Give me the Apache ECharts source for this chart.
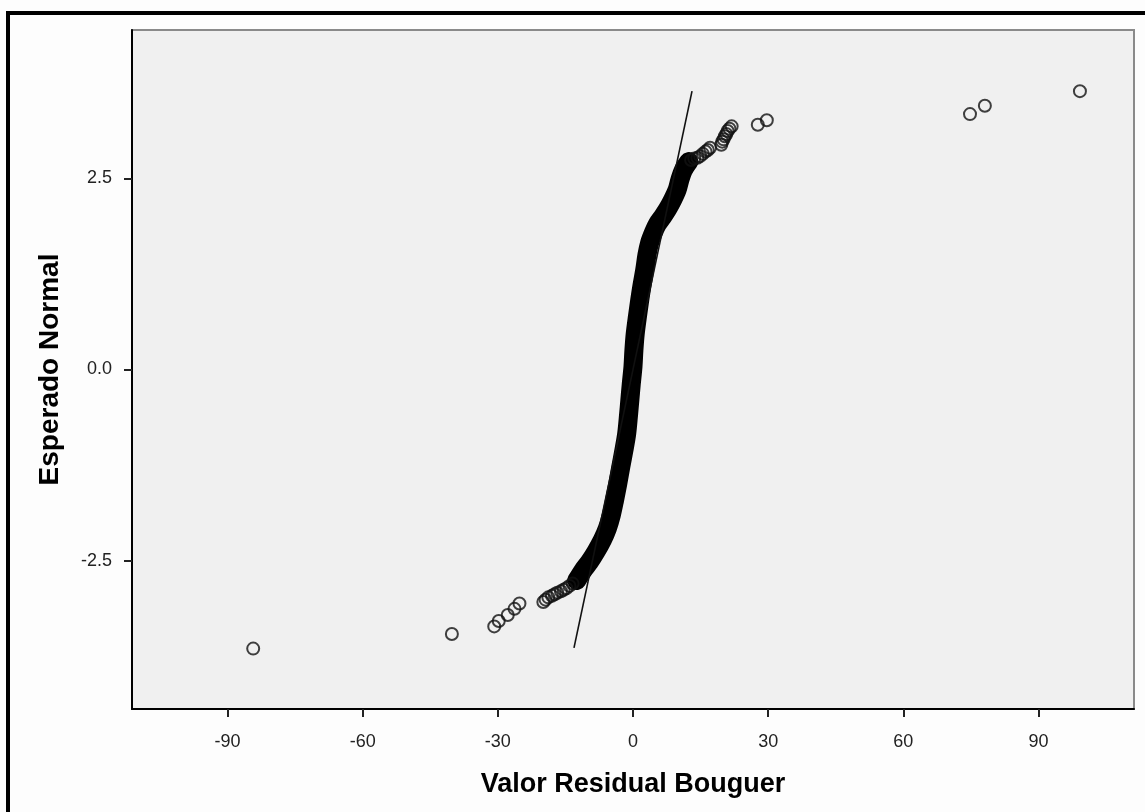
<!DOCTYPE html>
<html>
<head>
<meta charset="utf-8">
<title>Q-Q Normal: Valor Residual Bouguer</title>
<script src="https://cdn.jsdelivr.net/npm/echarts@6/dist/echarts.min.js"></script>
<style>
  html, body { margin: 0; padding: 0; background: #fdfdfd; }
  #chart { width: 1145px; height: 812px; }
</style>
</head>
<body>
<div id="chart"></div>
<script>
// Axis tick values
const xTickValues = [-90, -60, -30, 0, 30, 60, 90];
const yTickValues = [-2.5, 0.0, 2.5];

// Dense core of the Q-Q curve (observed residual, expected normal)
const coreX = [-12.5, -11.0, -9.7, -8.2, -6.8, -5.7, -4.8, -4.1, -3.4, -2.7, -2.0, -1.4, -1.0, -0.7, -0.4, 0.0, 0.2, 0.5, 1.0, 1.5, 2.0, 2.6, 3.1, 3.7, 4.6, 5.4, 6.6, 7.7, 8.8, 9.8, 10.4, 11.2, 12.4];
const coreY = [-2.76, -2.62, -2.52, -2.38, -2.23, -2.08, -1.90, -1.71, -1.50, -1.27, -1.05, -0.84, -0.60, -0.40, -0.20, 0.04, 0.25, 0.47, 0.70, 0.91, 1.10, 1.30, 1.50, 1.66, 1.80, 1.90, 2.00, 2.10, 2.22, 2.35, 2.48, 2.61, 2.72];

// Individually visible points in both tails
const tailX = [-84.3, -40.2, -30.8, -29.8, -27.8, -26.3, -25.2,
               -19.9, -19.4, -18.8, -18.0, -17.4, -16.8, -16.0, -15.4, -14.8, -14.1, -13.4,
               12.9, 13.6, 14.3, 14.9, 15.5, 16.1, 16.6, 17.1,
               19.6, 19.8, 20.1, 20.4, 20.7, 21.0, 21.4, 21.9, 27.7, 29.7, 74.8, 78.1, 99.2];
const tailY = [-3.65, -3.46, -3.36, -3.29, -3.21, -3.13, -3.06,
               -3.04, -3.01, -2.98, -2.96, -2.94, -2.92, -2.90, -2.88, -2.86, -2.83, -2.80,
               2.74, 2.76, 2.77, 2.79, 2.82, 2.85, 2.87, 2.90,
               2.94, 2.98, 3.01, 3.05, 3.08, 3.12, 3.15, 3.18, 3.20, 3.26, 3.34, 3.45, 3.64];

// Reference line of the normal distribution
const refX = [-13.1, 13.1];
const refY = [-3.64, 3.64];

const pairs = (xs, ys) => xs.map((x, i) => [x, ys[i]]);

const FONT = '"Liberation Sans", Arial, sans-serif';

const chart = echarts.init(document.getElementById('chart'), null, { renderer: 'canvas' });

chart.setOption({
  backgroundColor: '#fdfdfd',
  animation: false,
  grid: {
    left: 132, top: 30, width: 1002, height: 679,
    show: true,
    backgroundColor: '#f0f0f0',
    borderColor: '#8a8a8a',
    borderWidth: 2
  },
  graphic: [{
    type: 'rect',
    shape: { x: 8, y: 13, width: 1160, height: 830 },
    style: { fill: 'none', stroke: '#000', lineWidth: 4 },
    z: 100
  }],
  xAxis: {
    type: 'value',
    min: -111.2, max: 111.2,
    name: 'Valor Residual Bouguer',
    nameLocation: 'middle',
    nameGap: 62,
    nameTextStyle: { fontFamily: FONT, fontSize: 27, fontWeight: 'bold', color: '#000' },
    axisLine: { show: true, onZero: false, lineStyle: { color: '#000', width: 2 } },
    axisTick: { show: true, length: 8, customValues: xTickValues, lineStyle: { color: '#222', width: 2 } },
    axisLabel: {
      customValues: xTickValues, margin: 24,
      fontFamily: FONT, fontSize: 18, color: '#222',
      formatter: v => String(Math.round(v))
    },
    splitLine: { show: false }
  },
  yAxis: {
    type: 'value',
    min: -4.44, max: 4.44,
    name: 'Esperado Normal',
    nameLocation: 'middle',
    nameGap: 68,
    nameRotate: 90,
    nameTextStyle: { fontFamily: FONT, fontSize: 28, fontWeight: 'bold', color: '#000' },
    axisLine: { show: true, onZero: false, lineStyle: { color: '#000', width: 2 } },
    axisTick: { show: true, length: 8, customValues: yTickValues, lineStyle: { color: '#222', width: 2 } },
    axisLabel: {
      customValues: yTickValues, margin: 20,
      fontFamily: FONT, fontSize: 18, color: '#222',
      formatter: v => v.toFixed(1)
    },
    splitLine: { show: false }
  },
  series: [
    {
      // many overlapping markers merge into a solid band
      name: 'core',
      type: 'line',
      data: pairs(coreX, coreY),
      showSymbol: false,
      smooth: 0.3,
      lineStyle: { color: '#000', width: 19, cap: 'round', join: 'round' },
      z: 3
    },
    {
      name: 'tails',
      type: 'scatter',
      data: pairs(tailX, tailY),
      symbol: 'circle',
      symbolSize: 12,
      itemStyle: { color: 'rgba(0,0,0,0)', borderColor: '#111', borderWidth: 2 },
      z: 4
    },
    {
      name: 'reference',
      type: 'line',
      data: pairs(refX, refY),
      showSymbol: false,
      lineStyle: { color: '#111', width: 1.6 },
      z: 5
    }
  ]
});
</script>
</body>
</html>
